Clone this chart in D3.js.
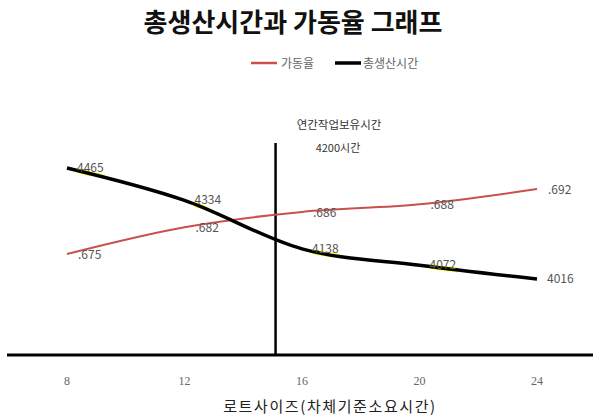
<!DOCTYPE html>
<html><head><meta charset="utf-8">
<script src="https://cdn.jsdelivr.net/npm/d3@7"></script>
<style>
html,body{margin:0;padding:0;background:#fff;}
svg{display:block;font-family:"Noto Sans CJK KR","Noto Sans",sans-serif;}
</style></head>
<body>
<svg id="chart" width="593" height="417"></svg>
<script>
const lotSizes = [8, 12, 16, 20, 24];
const totalHours = [4465, 4334, 4138, 4072, 4016];
const utilization = [0.675, 0.682, 0.686, 0.688, 0.692];
const utilLabels = [".675", ".682", ".686", ".688", ".692"];
const tickLabels = ["8", "12", "16", "20", "24"];
const thresholdLot = 15.1;
const title = "총생산시간과 가동율 그래프";
const legendNames = ["가동율", "총생산시간"];
const annotation = ["연간작업보유시간", "4200시간"];
const xTitle = "로트사이즈(차체기준소요시간)";

const svg = d3.select("#chart");
const x = d3.scaleLinear().domain([8, 24]).range([67, 537]);
const yHours = d3.scaleLinear().domain([4016, 4465]).range([279, 168]);
const yUtil = d3.scaleLinear().domain([0.675, 0.692]).range([254, 189]);
const tickX = d3.scalePoint().domain(tickLabels).range([67, 537]);

// title
svg.append("text").attr("x", 293).attr("y", 32).attr("text-anchor", "middle")
  .attr("font-size", 26).attr("font-weight", "bold").attr("fill", "#111").text(title);

// legend
const lg = svg.append("g");
lg.append("line").attr("x1", 251).attr("x2", 277).attr("y1", 63).attr("y2", 63)
  .attr("stroke", "#c8504e").attr("stroke-width", 2.5);
lg.append("text").attr("x", 281).attr("y", 67.5).attr("font-size", 12).attr("fill", "#666").text(legendNames[0]);
lg.append("line").attr("x1", 335).attr("x2", 361).attr("y1", 63).attr("y2", 63)
  .attr("stroke", "#000").attr("stroke-width", 3.5);
lg.append("text").attr("x", 363).attr("y", 67.5).attr("font-size", 12).attr("fill", "#666").text(legendNames[1]);

// annotation
svg.append("text").attr("x", 339).attr("y", 129).attr("text-anchor", "middle")
  .attr("font-size", 11.5).attr("fill", "#333").text(annotation[0]);
svg.append("text").attr("x", 338).attr("y", 152).attr("text-anchor", "middle")
  .attr("font-size", 11).attr("fill", "#333").text(annotation[1]);

// x axis line
svg.append("line").attr("x1", 7).attr("x2", 593).attr("y1", 355).attr("y2", 355)
  .attr("stroke", "#000").attr("stroke-width", 3);

// x tick labels
svg.append("g").selectAll("text").data(tickLabels).join("text")
  .attr("x", d => tickX(d)).attr("y", 385).attr("text-anchor", "middle")
  .attr("font-size", 12).attr("fill", "#666").attr("font-family", "'Liberation Serif', serif").text(d => d);

// x title
svg.append("text").attr("x", 330).attr("y", 412).attr("text-anchor", "middle")
  .attr("font-size", 15).attr("letter-spacing", 1.6).attr("fill", "#222").text(xTitle);

// vertical threshold line
svg.append("line").attr("x1", x(thresholdLot)).attr("x2", x(thresholdLot))
  .attr("y1", 143).attr("y2", 355).attr("stroke", "#000").attr("stroke-width", 2.5);

const curve = d3.curveMonotoneX;
// red line
const redLine = d3.line().x((d, i) => x(lotSizes[i])).y(d => yUtil(d)).curve(curve);
svg.append("path").attr("d", redLine(utilization)).attr("fill", "none")
  .attr("stroke", "#c8504e").attr("stroke-width", 2);

// black line with yellow highlight under label areas
const blackLine = d3.line().x((d, i) => x(lotSizes[i])).y(d => yHours(d)).curve(curve);
const defs = svg.append("defs");
const clip = defs.append("clipPath").attr("id", "labclip");
clip.selectAll("rect").data(totalHours).join("rect")
  .attr("x", (d, i) => x(lotSizes[i]) + 10).attr("y", d => yHours(d) - 12)
  .attr("width", 28).attr("height", 20);
svg.append("path").attr("d", blackLine(totalHours)).attr("fill", "none")
  .attr("stroke", "#ffff33").attr("stroke-width", 5).attr("clip-path", "url(#labclip)");
svg.append("path").attr("d", blackLine(totalHours)).attr("fill", "none")
  .attr("stroke", "#000").attr("stroke-width", 3.5);

// labels
svg.append("g").selectAll("text").data(totalHours).join("text")
  .attr("x", (d, i) => x(lotSizes[i]) + 10).attr("y", d => yHours(d) + 4)
  .attr("font-size", 12).attr("fill", "#555").text(d => d);
svg.append("g").selectAll("text").data(utilization).join("text")
  .attr("x", (d, i) => x(lotSizes[i]) + 11).attr("y", d => yUtil(d) + 5)
  .attr("font-size", 12).attr("fill", "#555").text((d, i) => utilLabels[i]);
</script>
</body></html>
